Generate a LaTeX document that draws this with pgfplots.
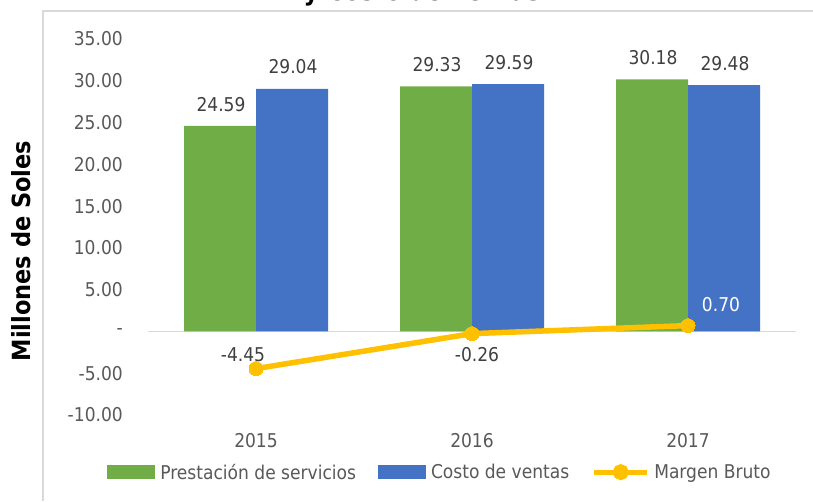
\documentclass[border=0pt]{standalone}
\usepackage{pgfplots}
\pgfplotsset{compat=1.18}
\usepackage{fontspec}
\setmainfont{DejaVu Sans Condensed}
\definecolor{cgreen}{HTML}{70AD47}
\definecolor{cblue}{HTML}{4472C4}
\definecolor{cgold}{HTML}{FFC000}
\definecolor{ctext}{HTML}{595959}
\definecolor{clabel}{HTML}{404040}
\definecolor{cgrid}{HTML}{D9D9D9}
\newcommand{\fs}{\fontsize{19}{23}\selectfont}
\begin{document}
\begin{tikzpicture}[x=1pt,y=1pt]
\useasboundingbox (0,0) rectangle (813,501);
\clip (0,0) rectangle (813,501);
\fill[white] (0,0) rectangle (813,501);
\draw[cgrid, line width=1.5] (43,0) -- (43,490) -- (813,490);
\node[font=\fontsize{26}{30}\selectfont\bfseries, anchor=base, text=black] at (422,500.5) {y Costo de Ventas};
\begin{axis}[
  at={(148pt,86pt)}, anchor=south west,
  width=648pt, height=376pt, scale only axis,
  xmin=-0.5, xmax=2.5, ymin=-10, ymax=35,
  xtick={0,1,2}, xticklabels={2015,2016,2017},
  ytick={-10,-5,0,5,10,15,20,25,30,35},
  yticklabels={-10.00,-5.00,-,5.00,10.00,15.00,20.00,25.00,30.00,35.00},
  axis line style={draw=none}, major tick length=0pt,
  tick label style={font=\fs, text=ctext, inner sep=0pt},
  yticklabel shift=25pt, xticklabel shift=18pt,
  /pgf/number format/assume math mode=true,
  ylabel={Millones de Soles},
  every axis y label/.style={at={(axis description cs:-0.196,0.436)}, rotate=90, anchor=center, font=\fontsize{25}{30}\selectfont\bfseries, text=black},
  legend columns=3,
  legend style={draw=none, fill=none, at={(axis description cs:0.449,-0.152)}, anchor=center,
    font=\fs, text=ctext, nodes={inner sep=0pt},
    /tikz/every odd column/.style={column sep=5pt},
    /tikz/every even column/.style={column sep=22pt}},
  legend cell align=left,
  clip=false,
]
\draw[cgrid, line width=1.5pt] (axis cs:-0.5,0) -- (axis cs:2.5,0);
\addplot[ybar, bar width=72pt, bar shift=-36pt, fill=cgreen, draw=none,
  nodes near coords={\pgfmathprintnumber[fixed,fixed zerofill,precision=2]{\pgfplotspointmeta}},
  every node near coord/.style={anchor=south, xshift=-35pt, yshift=14.5pt, inner sep=0pt, font=\fs, text=clabel},
  legend image code/.code={\fill[cgreen] (0pt,-7pt) rectangle (48pt,7pt);}]
  coordinates {(0,24.59)(1,29.33)(2,30.18)};
\addlegendentry{Prestación de servicios}
\addplot[ybar, bar width=72pt, bar shift=36pt, fill=cblue, draw=none,
  nodes near coords={\pgfmathprintnumber[fixed,fixed zerofill,precision=2]{\pgfplotspointmeta}},
  every node near coord/.style={anchor=south, xshift=37pt, yshift=14.5pt, inner sep=0pt, font=\fs, text=clabel},
  legend image code/.code={\fill[cblue] (0pt,-7pt) rectangle (48pt,7pt);}]
  coordinates {(0,29.04)(1,29.59)(2,29.48)};
\addlegendentry{Costo de ventas}
\addplot[sharp plot, cgold, line width=5.5pt, mark=*, mark size=7pt, mark options={fill=cgold, draw=cgold, line width=0pt},
  legend image code/.code={\draw[cgold, line width=5pt] (0pt,0pt) -- (53pt,0pt); \fill[cgold] (27pt,0pt) circle (5.2pt);}]
  coordinates {(0,-4.45)(1,-0.26)(2,0.70)};
\addlegendentry{Margen Bruto}
\addplot[draw=none, mark=none, forget plot,
  nodes near coords={\pgfmathprintnumber[fixed,fixed zerofill,precision=2]{\pgfplotspointmeta}},
  every node near coord/.style={anchor=center, xshift=-13pt, yshift=14pt, inner sep=0pt, font=\fs, text=clabel}]
  coordinates {(0,-4.45)};
\addplot[draw=none, mark=none, forget plot,
  nodes near coords={\pgfmathprintnumber[fixed,fixed zerofill,precision=2]{\pgfplotspointmeta}},
  every node near coord/.style={anchor=center, xshift=5pt, yshift=-21pt, inner sep=0pt, font=\fs, text=clabel}]
  coordinates {(1,-0.26)};
\addplot[draw=none, mark=none, forget plot,
  nodes near coords={\pgfmathprintnumber[fixed,fixed zerofill,precision=2]{\pgfplotspointmeta}},
  every node near coord/.style={anchor=center, xshift=33pt, yshift=21pt, inner sep=0pt, font=\fs, text=white}]
  coordinates {(2,0.70)};
\end{axis}
\end{tikzpicture}
\end{document}
